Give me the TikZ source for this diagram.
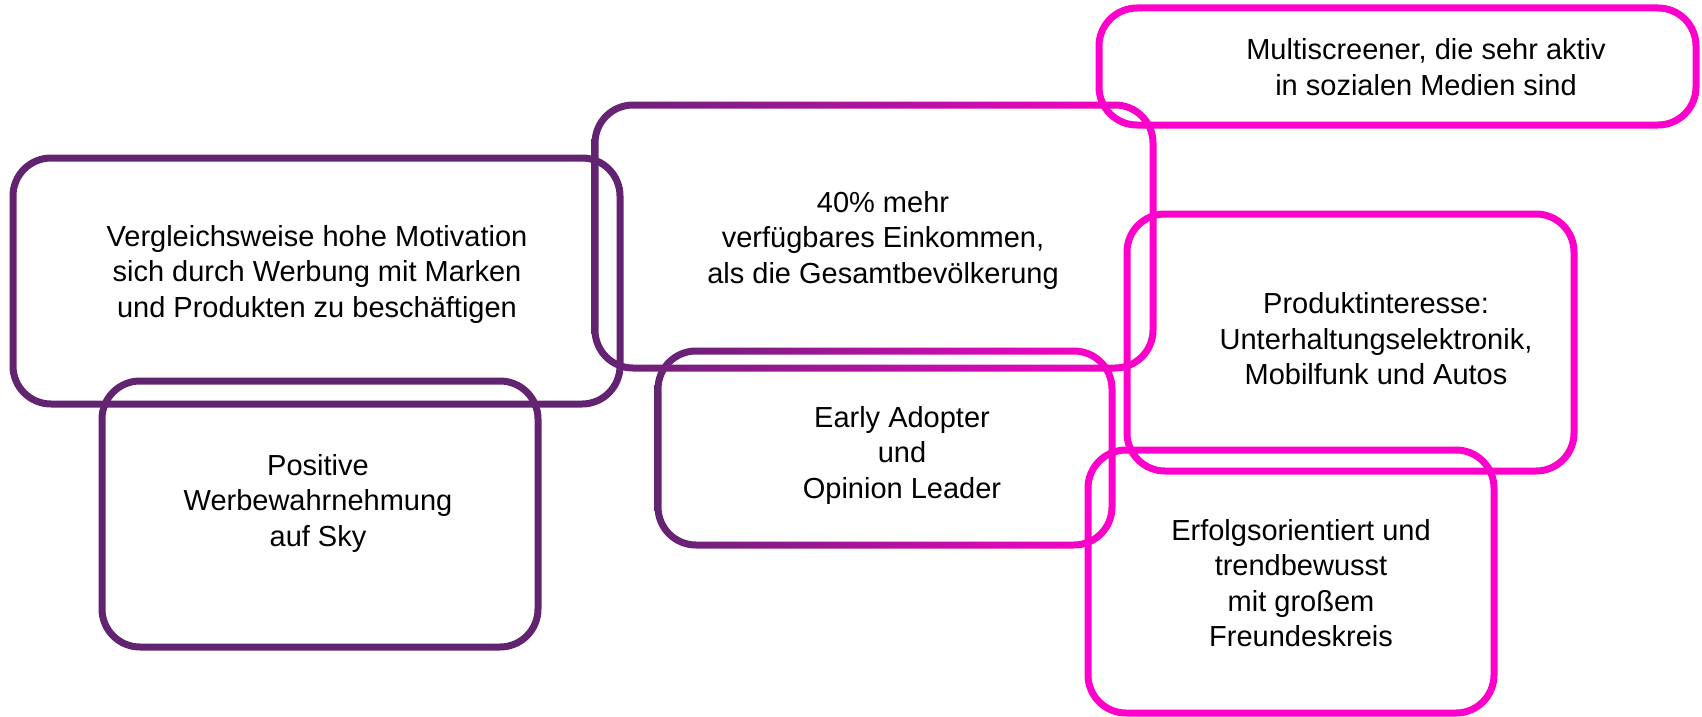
\documentclass[tikz,border=0pt]{standalone}
\usepackage{fontspec}
\setmainfont{Liberation Sans}
\definecolor{dpurple}{RGB}{98,36,113}
\definecolor{mag}{RGB}{255,0,204}
\tikzset{
  txt/.style={align=center, inner sep=0pt, font=\fontsize{29}{35.5}\selectfont, text=black},
  box/.style={draw=#1, line width=7pt, rounded corners=38pt},
  anchorbox/.style={inner sep=0pt, draw=none}
}
\begin{document}
\begin{tikzpicture}[x=1pt,y=-1pt]
\useasboundingbox[fill=white] (0,0) rectangle (1702,717);
% A
\draw[box=dpurple] (13,158) rectangle (620,404);
\node[anchorbox] (a) at (316,281) {};
\node[txt] (ta) at (317,274) {Vergleichsweise hohe Motivation\\sich durch Werbung mit Marken\\und Produkten zu besch\"aftigen};
% B
\draw[box=dpurple] (102,381) rectangle (538,647);
\node[anchorbox] (b) at (320,514) {};
\node[txt] (tb) at (318,503) {Positive\\Werbewahrnehmung\\auf Sky};
% D (gradient)
\node[anchorbox] (d) at (885,448) {};
\shade[left color=dpurple, right color=mag, even odd rule]
  [rounded corners=41.5pt] (654.5,347.5) rectangle (1115.5,548.5)
  [rounded corners=34.5pt] (661.5,354.5) rectangle (1108.5,541.5);
\node[txt] (td) at (902,455) {Early Adopter\\und\\Opinion Leader};
% C (gradient)
\node[anchorbox] (c) at (874,237) {};
\shade[left color=dpurple, right color=mag, even odd rule]
  [rounded corners=41.5pt] (591.5,101.5) rectangle (1156.5,371.5)
  [rounded corners=34.5pt] (598.5,108.5) rectangle (1149.5,364.5);
\node[txt] (tc) at (883,240) {40\% mehr\\verf\"ugbares Einkommen,\\als die Gesamtbev\"olkerung};
% E
\draw[box=mag] (1099,8) rectangle (1696,125);
\node[anchorbox] (e) at (1397,66) {};
\node[txt] (te) at (1426,67) {Multiscreener, die sehr aktiv\\in sozialen Medien sind};
% F
\draw[box=mag] (1127,214) rectangle (1574,471);
\node[anchorbox] (f) at (1350,342) {};
\node[txt] (tf) at (1376,339) {Produktinteresse:\\Unterhaltungselektronik,\\Mobilfunk und Autos};
% G
\draw[box=mag] (1088,450) rectangle (1494,713);
\node[anchorbox] (g) at (1291,581) {};
\node[txt] (tg) at (1301,583) {Erfolgsorientiert und\\trendbewusst\\mit gro\ss em\\Freundeskreis};
\end{tikzpicture}
\end{document}
